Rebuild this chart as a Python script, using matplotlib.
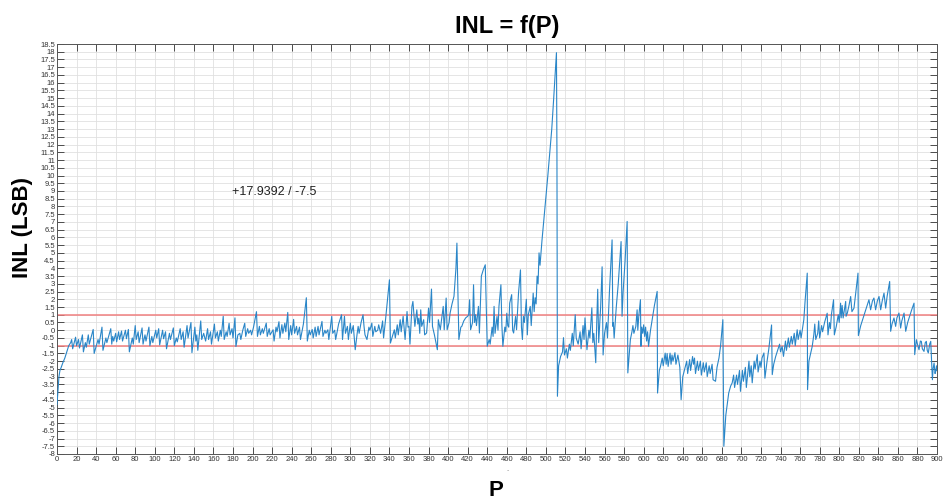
import numpy as np
import matplotlib
matplotlib.use('Agg')
import matplotlib.pyplot as plt
from matplotlib.ticker import FormatStrFormatter

plt.rcParams['font.family'] = ['Liberation Sans', 'DejaVu Sans']

# INL curve, piece by piece (P, INL in LSB)
ramp_p = [0, 1, 2, 3, 4, 6, 8, 10, 12, 14, 15]
ramp_inl = [-4.8, -3.9, -3.0, -2.6, -2.45, -2.1, -1.8, -1.4, -1.0, -0.8, -0.6]

low_p = [16, 19, 20, 22, 23, 26, 27, 29, 30, 32, 33, 37, 38, 42, 43, 46, 47, 50, 51, 55,
         56, 57, 58, 60, 61, 63, 64, 66, 67, 70, 71, 73, 74, 77, 78, 80, 81, 83, 84, 87,
         88, 90, 91, 94, 95, 97, 98, 101, 102, 104, 105, 108, 109, 111, 112, 115, 116, 119, 120, 122,
         123, 126, 127, 129, 130, 133, 134, 137, 138, 141, 142, 143, 144, 147, 148]
low_inl = [-1.2, -0.45, -1.0, -0.6, -1.15, -0.3, -1.4, -0.8, -1.1, -0.3, -0.9, 0.05, -1.5, -0.6, -0.9, 0.2, -1.3, -0.5, -0.8, 0.1,
           -0.9, -0.4, -0.7, -0.2, -0.75, -0.1, -0.6, -0.05, -0.7, 0.0, -0.55, 0.05, -1.4, -0.5, -0.9, 0.3, -0.6, -0.1, -0.8, 0.15,
           -0.9, -0.3, -0.7, 0.2, -1.0, -0.4, -0.8, 0.0, -0.5, 0.1, -0.95, 0.0, -0.55, -0.1, -1.2, -0.2, -0.6, 0.15, -1.0, -0.5,
           -0.75, 0.1, -0.6, -0.1, -1.1, 0.3, -0.5, 0.5, -1.45, 0.2, -0.7, -0.3, -1.3, 0.6, -0.6]

mid_p = [150, 152, 154, 155, 157, 158, 161, 162, 164, 165, 167, 168, 170, 171, 173, 174, 176, 177, 179, 180,
         182, 183, 185, 187, 188, 190, 192, 193, 195, 196, 198, 199, 201, 204, 205, 207, 208, 210, 211, 214,
         215, 217, 218, 221, 222, 224, 225, 227, 228, 230, 231, 233, 234, 236, 237, 239, 240, 242, 243, 245,
         246, 248, 249, 252, 255, 256, 258, 259, 261, 262, 264, 265, 267, 268, 271, 272, 274, 275, 277, 278,
         281, 282, 284, 285, 288, 291]
mid_inl = [-0.2, -0.7, 0.1, -0.6, -0.1, -0.9, 0.4, -0.5, -0.1, -0.7, 0.0, -0.4, 0.9, -0.6, -0.1, -0.4, 0.45, -0.3, 0.1, -0.5,
           0.8, -1.05, -0.3, -0.2, -0.6, 0.0, 0.45, -0.4, 0.1, -0.2, 0.0, -0.3, 0.2, 1.2, -0.4, 0.25, -0.3, 0.1, -0.2, 0.46,
           -0.4, 0.1, -0.3, 0.03, -0.7, 0.2, -0.1, 0.55, -0.5, 0.36, -0.2, 0.46, -0.1, 1.15, -0.6, 0.3, -0.3, 0.7, -0.2, 0.25,
           -0.3, 0.2, -0.6, 0.4, 2.1, -0.7, 0.0, -0.3, 0.05, -0.5, 0.2, -0.4, 0.25, -0.3, 0.57, -0.4, 0.0, -0.2, 0.03, -0.6,
           0.9, -0.2, 0.0, -0.6, 0.4, 1.0]

busy_p = [292, 294, 295, 297, 298, 300, 301, 303, 305, 307, 308, 309, 311, 313, 314, 315, 317, 319, 320, 322,
          323, 325, 326, 328, 329, 331, 333, 334, 336, 338, 340, 341, 343, 345, 346, 348, 349, 351, 352, 354,
          356, 358, 359, 360, 361, 363, 364, 366, 368, 369, 370, 371, 372, 373, 375, 376, 378, 380, 381, 383,
          384, 386, 389, 390, 392, 394, 395, 396, 398, 399, 401, 402, 404, 406, 408, 409, 411, 413, 414, 416,
          418, 420, 421, 422, 423, 425, 426, 427, 428, 429, 431, 432, 434, 436, 438]
busy_inl = [-0.6, 0.9, -0.2, 0.25, -0.6, 0.46, -0.2, 0.3, -1.26, -0.2, 0.25, -0.2, 0.5, 1.0, 0.25, -0.3, -0.6, 0.2, 0.0, 0.46,
            -0.4, 0.25, -0.1, 0.0, 0.35, -0.2, 0.6, -0.5, 0.68, 1.97, 3.26, -0.83, -0.4, 0.03, -0.5, 0.35, -0.3, 0.68, -0.1, 0.9,
            -0.6, 1.21, 0.2, 0.25, -0.9, 1.54, 1.86, 0.25, 1.32, 0.4, 0.78, -0.2, 1.32, 0.25, 0.68, -0.3, -0.18, 1.43, 0.5, 2.66,
            0.25, -0.3, -1.26, 0.68, 0.03, 1.0, 1.54, 0.03, 2.08, 0.03, 0.5, 1.1, 1.7, 2.19, 4.0, 5.63, -0.6, 0.2, 0.25, 0.6,
            0.8, 0.9, 1.0, 1.97, 0.03, 0.5, 2.94, 0.5, 1.0, 0.3, 1.54, -0.18, 3.5, 3.91, 4.23]

peak_p = [440, 442, 443, 445, 446, 447, 448, 450, 451, 452, 454, 455, 456, 458, 459, 460, 461, 462, 463, 465,
          466, 467, 469, 470, 472, 474, 475, 476, 477, 478, 480, 481, 482, 484, 485, 487, 488, 489, 490, 491,
          492, 493, 494, 496, 498, 500, 502, 504, 506, 508, 510.8, 511.3, 511.8]
peak_inl = [-1.04, -0.6, -0.9, 0.2, -0.4, 1.54, -0.2, 0.89, 0.0, 1.54, 2.94, 0.3, -1.04, 0.2, -0.1, 1.1, 0.3, 0.2, 1.75, 2.3,
            0.0, -0.18, 0.89, 0.03, 2.4, 3.9, 0.2, -0.6, 0.9, 0.5, 2.0, -0.3, 1.0, 1.54, 0.3, 2.4, 1.2, 2.1, 1.7, 3.5,
            3.0, 5.0, 4.2, 5.8, 7.2, 8.6, 10.0, 11.5, 13.0, 15.0, 17.9392, 11.5, -4.27]

after_p = [513, 515, 517, 518, 519, 521, 522, 524, 525, 527, 528, 530, 531, 533, 535, 536, 538, 539, 540, 542,
           544, 545, 547, 548, 549, 551, 552, 553, 554, 556, 557.5, 558.5, 560, 562, 563, 565, 567.7, 568.5, 569, 569.8,
           572, 574, 576.9, 577.9, 579, 581, 583.1]
after_inl = [-2.3, -1.7, -1.4, -0.48, -1.6, -1.2, -1.8, -0.9, -1.3, -0.2, -1.0, 1.0, -0.5, -0.9, -0.1, -1.2, 0.3, -0.6, 0.8, -1.26,
             0.0, -0.5, 1.45, -0.8, -0.2, -2.1, 0.5, 2.65, -0.8, 1.5, 4.1, -1.6, -0.2, 0.5, -0.5, 2.5, 5.84, 0.25, 0.5, -0.51,
             1.5, 3.0, 5.73, 0.9, 2.5, 4.5, 7.03]

dip_p = [583.8, 586.4, 588, 589, 590, 592, 593.3, 594, 595, 596.7, 597.2, 598, 599, 600, 601, 602, 603, 604, 605, 607,
         609, 611, 613.8, 614.2, 616, 617.2, 619, 620, 622, 623, 624, 625, 627, 628, 629, 630, 632, 633, 635, 637,
         638.3, 640, 642.7, 644, 645, 647, 648, 650, 651, 652, 653, 655, 656, 658, 659, 661, 662, 664, 665, 667,
         668, 670, 671, 673.5, 675, 677, 678.6, 681]
dip_inl = [-2.76, -0.61, -0.1, 0.3, -0.2, 0.25, 1.32, 0.0, 0.9, 1.97, -1.04, 0.2, -0.2, 0.35, -0.4, 0.2, -0.7, -0.1, -1.04, 0.0,
           0.8, 1.6, 2.51, -4.06, -2.6, -2.34, -1.8, -2.3, -1.48, -2.2, -1.5, -2.34, -1.48, -2.2, -1.6, -2.0, -1.45, -2.2, -1.6, -2.4,
           -4.49, -3.0, -2.34, -2.0, -2.8, -1.9, -2.6, -1.7, -2.2, -1.8, -2.8, -2.0, -2.6, -2.0, -2.9, -2.1, -2.7, -2.1, -3.0, -2.3,
           -2.8, -2.2, -3.2, -3.3, -2.4, -1.8, -1.04, 0.68]

climb_p = [682, 684, 687, 689, 690.5, 692, 693, 695, 696, 698, 699, 701, 702, 704, 705, 707.7, 708.5, 710, 711, 713,
           714, 716.2, 717, 719, 720, 721, 723, 724, 726, 728, 730.8, 731.5, 733, 735, 737, 739, 740, 741.6, 743, 745,
           746, 748, 749, 751, 752, 754, 755, 757, 758, 760, 761, 763.8, 765, 767.3, 767.6, 769, 772.4, 774, 775, 776,
           778, 779, 780, 782, 783, 785, 787.7, 788.5, 790, 791, 792, 794.2, 795, 797, 799, 800, 801.4, 802, 803]
climb_inl = [-7.5, -5.5, -4.05, -3.6, -3.41, -2.9, -3.7, -2.9, -3.5, -2.6, -3.95, -2.6, -3.3, -2.4, -3.7, -2.0, -3.0, -2.3, -3.4, -2.0,
             -2.5, -1.58, -2.7, -2.0, -2.4, -1.8, -1.47, -3.1, -2.1, -1.2, 0.34, -2.87, -2.2, -1.7, -1.3, -0.9, -1.4, -1.04, -1.69, -0.7,
             -1.3, -0.5, -1.1, -0.4, -0.9, -0.2, -1.0, 0.03, -0.6, 0.0, -0.5, 0.68, 1.8, 3.69, -3.84, -2.0, -1.04, -0.3, 0.4, -0.6,
             -0.2, 0.6, -0.5, 0.3, -0.1, 0.5, 1.1, -0.3, 0.5, 0.1, 1.0, 1.97, -0.3, 0.25, 1.0, 0.5, 1.75, 0.8, 1.6]

tail_p = [804, 806.6, 807, 808.3, 810, 811.7, 813, 815.1, 817, 819.2, 819.6, 822, 825, 828, 830.4, 832.1, 834, 835.5, 837.2, 839,
          840.7, 842.4, 844, 845.8, 847.5, 849, 851.6, 852.6, 854, 856, 857.7, 859, 861.1, 862.8, 864, 866.3, 868, 870, 872, 874,
          876.5, 877.2, 878.9, 880, 881.6, 883, 884, 885, 886.7, 888, 889.1, 890, 891.1, 892.5, 893.6, 894.5, 895.3, 896, 897, 898,
          898.7, 899.5, 900]
tail_inl = [0.79, 1.86, 0.9, 1.11, 1.6, 2.18, 1.2, 1.43, 2.5, 3.69, -0.35, 0.3, 0.9, 1.5, 1.97, 1.32, 1.9, 2.08, 1.32, 1.9,
            2.18, 1.32, 1.9, 2.4, 1.43, 2.2, 3.15, -0.07, 0.4, 0.79, 0.25, 0.8, 1.11, 0.14, 0.6, 1.11, -0.07, 0.5, 0.9, 1.3,
            1.75, -1.58, -0.61, -0.9, -1.26, -0.7, -0.72, -1.2, -1.37, -0.8, -0.72, -1.3, -1.47, -0.9, -0.72, -2.0, -3.2, -2.5, -2.12, -2.8,
            -2.66, -2.3, -2.6]

limits = [1, -1]
note = '+17.9392 / -7.5'

p = np.concatenate([ramp_p, low_p, mid_p, busy_p, peak_p, after_p, dip_p, climb_p, tail_p])
inl = np.concatenate([ramp_inl, low_inl, mid_inl, busy_inl, peak_inl, after_inl, dip_inl, climb_inl, tail_inl])

fig = plt.figure(figsize=(9.43, 4.99), dpi=100)
ax = fig.add_axes([57 / 943, 1 - 454 / 499, 880 / 943, 410 / 499])

ax.plot(p, inl, color='#2a86c8', linewidth=0.8, zorder=3)
for lim in limits:
    ax.axhline(lim, color='#f08080', linewidth=1.1, zorder=2)

ax.set_xlim(0, 900)
ax.set_ylim(-8, 18.5)
ax.set_xticks(np.arange(0, 901, 20))
ax.set_yticks(np.arange(-8, 18.51, 0.5))
ax.yaxis.set_major_formatter(FormatStrFormatter('%g'))
ax.tick_params(direction='in', length=5, width=0.6, colors='#333333', labelsize=5.5,
               top=True, right=True, pad=1.5)
ax.grid(True, color='#e0e0e0', linewidth=0.6, zorder=0)
for s in ax.spines.values():
    s.set_color('#555555')
    s.set_linewidth(0.7)

ax.text(179, 8.92, note, fontsize=9, va='center', ha='left', color='#222222')

fig.text(0.5376, 0.946, 'INL = f(P)', fontsize=17, fontweight='bold', ha='center', va='center')
fig.text(0.024, 0.545, 'INL (LSB)', fontsize=16, fontweight='bold', rotation=90, ha='center', va='center')
fig.text(0.526, 0.018, 'P', fontsize=16, fontweight='bold', ha='center', va='center')
fig.text(0.539, 0.057, '-', fontsize=5, color='#999999', ha='center', va='center')

fig.savefig('out.png', dpi=100)
